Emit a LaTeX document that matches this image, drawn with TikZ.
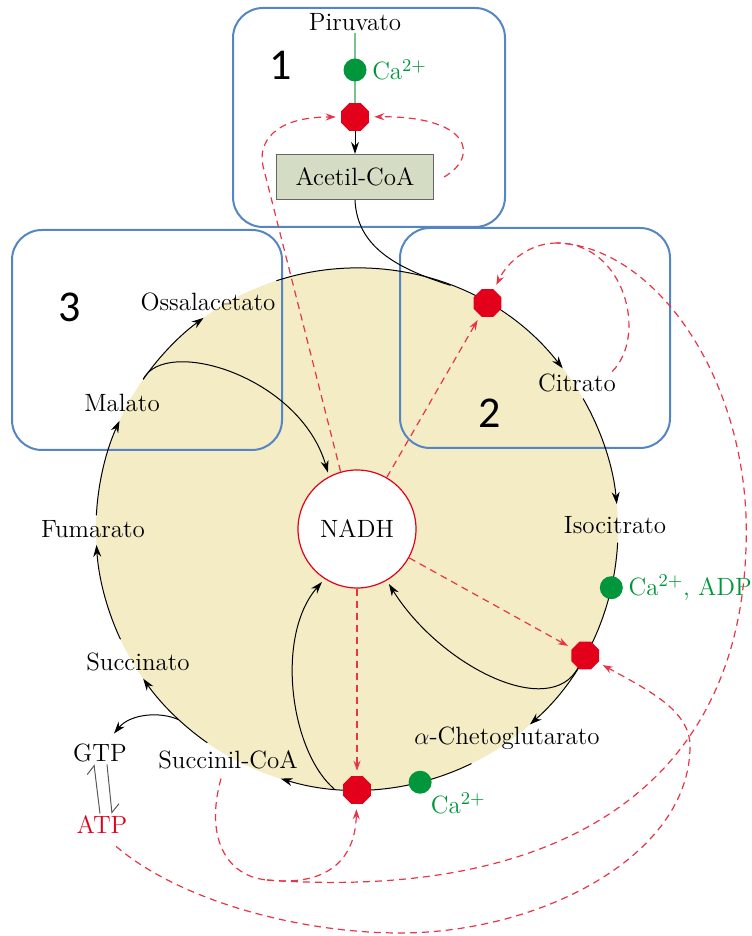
\documentclass[tikz,border=0pt]{standalone}
\usepackage{fontspec}
\newfontfamily\numfont{Carlito}
\usetikzlibrary{shapes.geometric,arrows.meta,positioning}
\definecolor{beige}{RGB}{243,236,196}
\definecolor{boxblue}{RGB}{84,134,196}
\definecolor{enzred}{RGB}{226,0,26}
\definecolor{dashred}{RGB}{232,52,72}
\definecolor{cagreen}{RGB}{0,150,60}
\definecolor{pirgreen}{RGB}{120,196,140}
\definecolor{acfill}{RGB}{212,220,196}
\tikzset{
  met/.style={font=\fontsize{12.5}{15}\selectfont, inner sep=1pt},
  enz/.style={regular polygon, regular polygon sides=8, fill=enzred, inner sep=0pt, minimum size=15pt},
  cadot/.style={circle, fill=cagreen, inner sep=0pt, minimum size=11.5pt},
  calabel/.style={met, text=cagreen},
  region/.style={draw=boxblue, line width=1pt, rounded corners=15pt},
  regnum/.style={font=\numfont\fontsize{22}{24}\selectfont},
  flow/.style={-{Stealth[length=6pt,width=4pt]}, line width=0.5pt},
  inhib/.style={draw=dashred, line width=0.6pt, dash pattern=on 3.5pt off 2.5pt},
  inhibarrow/.style={inhib, -{Stealth[length=5pt,width=3.5pt]}, shorten >=2.5pt}
}
\begin{document}
\begin{tikzpicture}[x=0.5pt,y=0.5pt]
      \useasboundingbox (0,0) rectangle (751,936);
      \node[circle, fill=beige, minimum size=261pt, inner sep=0pt, outer sep=0pt] (tca) at (357,407) {};
      \draw[region] (233,709) rectangle (505,928);
      \draw[region] (400,488) rectangle (670,708);
      \draw[region] (12,486) rectangle (282,706);
      \node[regnum] (n1) at (281,871) {1};
      \node[regnum] (n2) at (490,523) {2};
      \node[regnum] (n3) at (70,629) {3};
      \node[met] (piruvato) at (355,914) {Piruvato};
      \node[enz] (pdh) at (355,819) {};
      \draw[pirgreen, line width=0.8pt] (piruvato) -- (pdh);
      \node[cadot] (ca1) at (355,866) {};
      \node[calabel, right=1.5pt of ca1] (ca1l) {Ca$^{2+}$};
      \node[met, draw=gray!80!black, fill=acfill, line width=0.6pt, minimum width=78.5pt, minimum height=22.5pt] (acetyl) at (355,759) {Acetil-CoA};
      \draw[flow] (pdh) -- (acetyl);
      \node[met] (ossal) at (208,634) {Ossalacetato};
      \node[met] (citrato) at (577,553) {Citrato};
      \node[met] (isocit) at (615,411) {Isocitrato};
      \node[met] (akg) at (507,198) {$\alpha$-Chetoglutarato};
      \node[met] (succoa) at (228,176) {Succinil-CoA};
      \node[met] (succ) at (138,274) {Succinato};
      \node[met] (fum) at (93,407) {Fumarato};
      \node[met] (mal) at (122,533) {Malato};
      \node[met] (gtp) at (100,183) {GTP};
      \node[met, text=enzred] (atp) at (102,111) {ATP};
      \begin{scope}[flow]
        \draw (tca.108) arc[start angle=108, end angle=38, radius=130.5pt];
        \draw (tca.30) arc[start angle=30, end angle=5.5, radius=130.5pt];
        \draw (tca.-3) arc[start angle=-3, end angle=-48.5, radius=130.5pt];
        \draw (tca.-64) arc[start angle=-64, end angle=-107, radius=130.5pt];
        \draw (tca.-125) arc[start angle=-125, end angle=-145, radius=130.5pt];
        \draw (tca.-155) arc[start angle=-155, end angle=-176.5, radius=130.5pt];
        \draw (tca.177) arc[start angle=177, end angle=155.5, radius=130.5pt];
        \draw (tca.145) arc[start angle=145, end angle=126, radius=130.5pt];
        \draw (tca.-133) .. controls (160,225) and (130,222) .. ([shift={(7pt,4pt)}]gtp.north);
      \end{scope}
      \draw[line width=0.5pt] (acetyl.south) .. controls (357,690) and (395,668) .. (tca.69);
      \draw[gray!70!black, line width=0.5pt, -{Straight Barb[harpoon,length=4pt]}] ([xshift=-1pt]atp.north) -- ([xshift=-3pt]gtp.south);
      \draw[gray!70!black, line width=0.5pt, -{Straight Barb[harpoon,length=4pt]}] ([xshift=3.5pt]gtp.south) -- ([xshift=5pt]atp.north);
      \node[met, circle, draw=enzred, fill=white, line width=0.6pt, minimum size=59pt, inner sep=0pt] (nadh) at (357,407) {NADH};
      \begin{scope}[flow, shorten >=2pt]
        \draw (tca.145) .. controls (165,600) and (300,560) .. (nadh.118);
        \draw (tca.-95) .. controls (290,185) and (275,300) .. (nadh.237);
        \draw (tca.-32) .. controls (550,215) and (440,270) .. (nadh.-60);
      \end{scope}
      \node[enz] (cs) at (tca.60) {};
      \node[enz] (idh) at (tca.-29) {};
      \node[enz] (akgdh) at (tca.-90) {};
      \node[cadot] (ca2) at (tca.-13) {};
      \node[calabel, right=1.5pt of ca2] (ca2l) {Ca$^{2+}$, ADP};
      \node[cadot] (ca3) at (tca.-76) {};
      \node[calabel, below right=0pt and 0pt of ca3] (ca3l) {Ca$^{2+}$};
      \coordinate (csin) at (557,693);
      \coordinate (succj) at (267,56);
      \draw[inhibarrow] ([xshift=5pt]acetyl.east) .. controls (480,780) and (470,820) .. (pdh);
      \draw[inhibarrow] (nadh.106) -- (263,770) .. controls (258,792) and (272,819) .. (pdh);
      \draw[inhibarrow] (nadh) -- (cs);
      \draw[inhibarrow] (nadh) -- (idh);
      \draw[inhibarrow] (nadh) -- (akgdh);
      \draw[inhib] ([xshift=-3pt]citrato.north east) .. controls (648,600) and (625,693) .. (csin);
      \draw[inhibarrow] (csin) .. controls (530,693) and (508,675) .. (cs);
      \draw[inhib] ([shift={(-3.5pt,-3.5pt)}]succoa.south) .. controls (205,100) and (225,60) .. (succj);
      \draw[inhibarrow] (succj) .. controls (320,50) and (355,70) .. (akgdh);
      \draw[inhib] (succj) .. controls (560,35) and (754,150) .. (746,420) .. controls (740,570) and (650,690) .. (csin);
      \draw[inhibarrow] ([shift={(7pt,-5pt)}]atp.south) .. controls (180,35) and (300,3) .. (400,3) .. controls (540,3) and (690,80) .. (690,190) .. controls (690,225) and (650,245) .. (idh);
    \end{tikzpicture}
\end{document}
